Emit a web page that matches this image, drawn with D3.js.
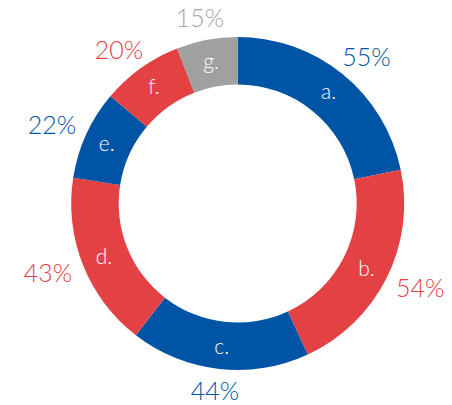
<!DOCTYPE html>
<html>
<head>
<meta charset="utf-8">
<script src="https://cdn.jsdelivr.net/npm/d3@7/dist/d3.min.js"></script>
<style>
  html, body { margin: 0; padding: 0; background: #fff; }
  svg { display: block; }
  text { font-family: Lato, "Open Sans", sans-serif; font-weight: 300; }
</style>
</head>
<body>
<svg id="chart" width="452" height="405"></svg>
<script>
const categories = ["a.", "b.", "c.", "d.", "e.", "f.", "g."];
const values = [55, 54, 44, 43, 22, 20, 15];
const valueLabels = ["55%", "54%", "44%", "43%", "22%", "20%", "15%"];
const colors = ["#0054a5", "#e44145", "#0054a5", "#e44145", "#0054a5", "#e44145", "#a0a0a0"];

const cx = 237.7, cy = 203.5;
const outerR = 166.5, innerR = 119;
const labelR = 144, pctR = 180;
const capH = 18;

const svg = d3.select("#chart");
const g = svg.append("g").attr("transform", `translate(${cx},${cy})`);

const data = categories.map((c, i) => ({ cat: c, value: values[i], label: valueLabels[i], color: colors[i] }));

const pie = d3.pie().value(d => d.value).sort(null);
const arcs = pie(data);

const arc = d3.arc().innerRadius(innerR).outerRadius(outerR);
const labelArc = d3.arc().innerRadius(labelR).outerRadius(labelR);
const pctArc = d3.arc().innerRadius(pctR).outerRadius(pctR);

g.selectAll("path.slice")
  .data(arcs)
  .join("path")
  .attr("class", "slice")
  .attr("d", arc)
  .attr("fill", d => d.data.color);

g.selectAll("text.cat")
  .data(arcs)
  .join("text")
  .attr("class", "cat")
  .attr("transform", d => `translate(${labelArc.centroid(d)})`)
  .attr("text-anchor", "middle")
  .attr("dy", "0.35em")
  .attr("fill", "#ffffff")
  .attr("font-size", 21)
  .text(d => d.data.cat);

const pct = g.selectAll("text.pct")
  .data(arcs)
  .join("text")
  .attr("class", "pct")
  .attr("text-anchor", "middle")
  .attr("dy", "0.36em")
  .attr("fill", d => d.data.color === "#a0a0a0" ? "#a6a6a6" : d.data.color)
  .attr("font-size", 25)
  .text(d => d.data.label);

pct.attr("transform", function(d) {
  const w = this.getComputedTextLength();
  const a = (d.startAngle + d.endAngle) / 2;
  const [x, y] = pctArc.centroid(d);
  return `translate(${x + Math.sin(a) * w / 2},${y - Math.cos(a) * capH / 2})`;
});
</script>
</body>
</html>
